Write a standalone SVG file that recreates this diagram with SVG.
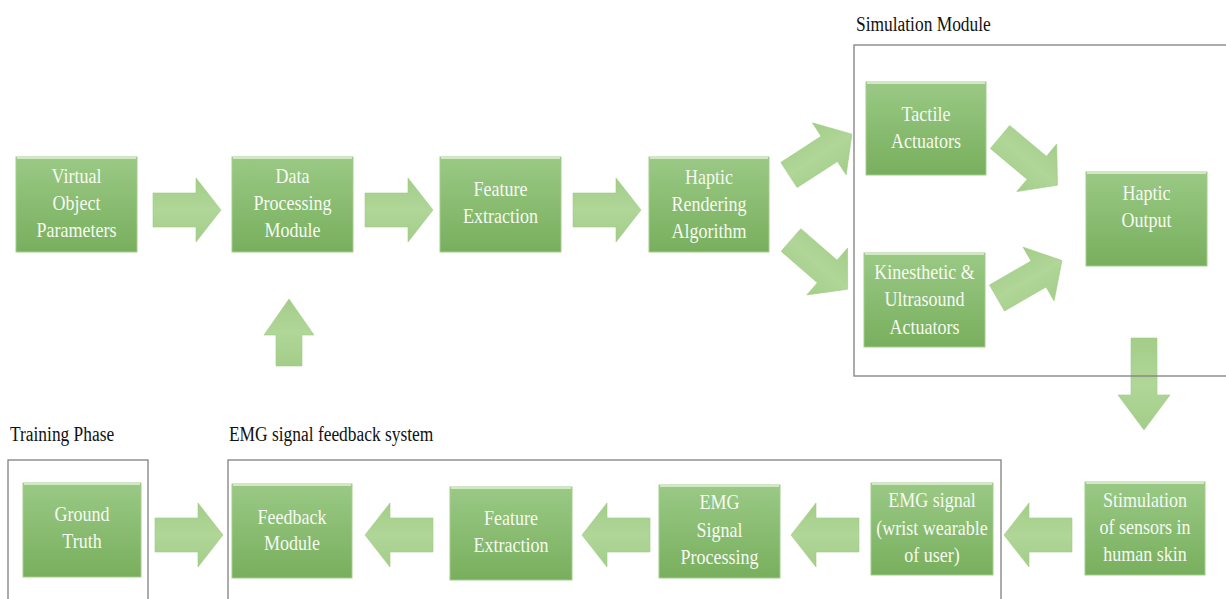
<svg xmlns="http://www.w3.org/2000/svg" xmlns:xlink="http://www.w3.org/1999/xlink" width="1226" height="599" viewBox="0 0 1226 599">
<style>
  .box { fill: url(#boxGrad); stroke: #a3cd8b; stroke-width: 1; }
  .hl { stroke: #d2e8c4; stroke-width: 2; }
  .nt { font-family: 'Liberation Serif', 'Times New Roman', serif; font-size: 22px; fill: #f6faf2; text-anchor: middle; }
  .lbl { font-family: 'Liberation Serif', 'Times New Roman', serif; font-size: 20px; fill: #111; }
  .frame { fill: none; stroke: #808080; stroke-width: 1.3; }
  .arr { fill: url(#arrGrad); stroke: #a0cc86; stroke-width: 0.6; }
</style>
<defs>
  <linearGradient id="boxGrad" x1="0" y1="0" x2="0" y2="1">
    <stop offset="0" stop-color="#9ac985"/>
    <stop offset="1" stop-color="#78af5d"/>
  </linearGradient>
  <linearGradient id="arrGrad" x1="0" y1="0" x2="0" y2="1">
    <stop offset="0" stop-color="#a3cd88"/>
    <stop offset="0.5" stop-color="#b0d698"/>
    <stop offset="1" stop-color="#a3cd88"/>
  </linearGradient>
  <path id="harr" d="M0,-17 H43 V-32 L68,0 L43,32 V17 H0 Z"/>
  <path id="darr" d="M0,-15 H48 V-31 L75,0 L48,31 V15 H0 Z"/>
</defs>
<rect width="1226" height="599" fill="#ffffff"/>

<g id="connectors">
  <use xlink:href="#harr" class="arr" transform="translate(153,210)"/>
  <use xlink:href="#harr" class="arr" transform="translate(365,210)"/>
  <use xlink:href="#harr" class="arr" transform="translate(573,210)"/>
  <use xlink:href="#darr" class="arr" transform="translate(789,175) rotate(-33)"/>
  <use xlink:href="#darr" class="arr" transform="translate(791,240) rotate(41)"/>
  <use xlink:href="#darr" class="arr" transform="translate(1000,137) rotate(40)"/>
  <use xlink:href="#darr" class="arr" transform="translate(997,298) rotate(-30)"/>
  <path class="arr" d="M1131,338 H1157 V395 H1170 L1144,430 L1118,395 H1131 Z"/>
  <path class="arr" d="M276,366 V335 H264 L289,299 L314,335 H302 V366 Z"/>
  <use xlink:href="#harr" class="arr" transform="translate(155,535)"/>
  <use xlink:href="#harr" class="arr" transform="translate(433,535) scale(-1,1)"/>
  <use xlink:href="#harr" class="arr" transform="translate(650,535) scale(-1,1)"/>
  <use xlink:href="#harr" class="arr" transform="translate(859,535) scale(-1,1)"/>
  <use xlink:href="#harr" class="arr" transform="translate(1072,535) scale(-1,1)"/>
</g>

<g id="frames">
  <rect class="frame" x="854" y="45" width="400" height="331"/>
  <rect class="frame" x="8" y="460" width="140" height="170"/>
  <rect class="frame" x="228" y="460" width="773" height="170"/>
  <text class="lbl" transform="translate(856,0) scale(0.87,1)" x="0" y="31">Simulation Module</text>
  <text class="lbl" transform="translate(10,0) scale(0.87,1)" x="0" y="441">Training Phase</text>
  <text class="lbl" transform="translate(229,0) scale(0.87,1)" x="0" y="441">EMG signal feedback system</text>
</g>

<g id="nodes">
<g id="n-virtual">
  <rect class="box" x="16" y="157" width="121" height="95"/>
  <line class="hl" x1="17" y1="158" x2="136" y2="158"/>
  <text class="nt" transform="translate(76.5,0) scale(0.82,1)"><tspan x="0" y="183">Virtual</tspan><tspan x="0" y="210">Object</tspan><tspan x="0" y="237">Parameters</tspan></text>
</g>
<g id="n-dataproc">
  <rect class="box" x="232" y="157" width="121" height="95"/>
  <line class="hl" x1="233" y1="158" x2="352" y2="158"/>
  <text class="nt" transform="translate(292.5,0) scale(0.82,1)"><tspan x="0" y="183">Data</tspan><tspan x="0" y="210">Processing</tspan><tspan x="0" y="237">Module</tspan></text>
</g>
<g id="n-feature1">
  <rect class="box" x="440" y="157" width="121" height="95"/>
  <line class="hl" x1="441" y1="158" x2="560" y2="158"/>
  <text class="nt" transform="translate(500.5,0) scale(0.82,1)"><tspan x="0" y="196">Feature</tspan><tspan x="0" y="223">Extraction</tspan></text>
</g>
<g id="n-rendering">
  <rect class="box" x="649" y="157" width="120" height="95"/>
  <line class="hl" x1="650" y1="158" x2="768" y2="158"/>
  <text class="nt" transform="translate(709,0) scale(0.82,1)"><tspan x="0" y="184">Haptic</tspan><tspan x="0" y="211">Rendering</tspan><tspan x="0" y="238">Algorithm</tspan></text>
</g>
<g id="n-tactile">
  <rect class="box" x="866" y="82" width="120" height="93"/>
  <line class="hl" x1="867" y1="83" x2="985" y2="83"/>
  <text class="nt" transform="translate(926,0) scale(0.82,1)"><tspan x="0" y="121">Tactile</tspan><tspan x="0" y="148">Actuators</tspan></text>
</g>
<g id="n-kinesthetic">
  <rect class="box" x="864" y="253" width="121" height="94"/>
  <line class="hl" x1="865" y1="254" x2="984" y2="254"/>
  <text class="nt" transform="translate(924.5,0) scale(0.82,1)"><tspan x="0" y="279">Kinesthetic &amp;</tspan><tspan x="0" y="306">Ultrasound</tspan><tspan x="0" y="334">Actuators</tspan></text>
</g>
<g id="n-hapticout">
  <rect class="box" x="1086" y="172" width="121" height="94"/>
  <line class="hl" x1="1087" y1="173" x2="1206" y2="173"/>
  <text class="nt" transform="translate(1146.5,0) scale(0.82,1)"><tspan x="0" y="200">Haptic</tspan><tspan x="0" y="227">Output</tspan></text>
</g>
<g id="n-ground">
  <rect class="box" x="23" y="483" width="118" height="94"/>
  <line class="hl" x1="24" y1="484" x2="140" y2="484"/>
  <text class="nt" transform="translate(82,0) scale(0.82,1)"><tspan x="0" y="521">Ground</tspan><tspan x="0" y="548">Truth</tspan></text>
</g>
<g id="n-feedback">
  <rect class="box" x="232" y="484" width="120" height="94"/>
  <line class="hl" x1="233" y1="485" x2="351" y2="485"/>
  <text class="nt" transform="translate(292,0) scale(0.82,1)"><tspan x="0" y="524">Feedback</tspan><tspan x="0" y="550">Module</tspan></text>
</g>
<g id="n-feature2">
  <rect class="box" x="450" y="487" width="122" height="93"/>
  <line class="hl" x1="451" y1="488" x2="571" y2="488"/>
  <text class="nt" transform="translate(511,0) scale(0.82,1)"><tspan x="0" y="525">Feature</tspan><tspan x="0" y="552">Extraction</tspan></text>
</g>
<g id="n-emgproc">
  <rect class="box" x="659" y="485" width="121" height="93"/>
  <line class="hl" x1="660" y1="486" x2="779" y2="486"/>
  <text class="nt" transform="translate(719.5,0) scale(0.82,1)"><tspan x="0" y="509">EMG</tspan><tspan x="0" y="537">Signal</tspan><tspan x="0" y="564">Processing</tspan></text>
</g>
<g id="n-emgsignal">
  <rect class="box" x="871" y="483" width="122" height="92"/>
  <line class="hl" x1="872" y1="484" x2="992" y2="484"/>
  <text class="nt" transform="translate(932,0) scale(0.82,1)"><tspan x="0" y="507">EMG signal</tspan><tspan x="0" y="535">(wrist wearable</tspan><tspan x="0" y="562">of user)</tspan></text>
</g>
<g id="n-stimulation">
  <rect class="box" x="1085" y="482" width="120" height="93"/>
  <line class="hl" x1="1086" y1="483" x2="1204" y2="483"/>
  <text class="nt" transform="translate(1145,0) scale(0.82,1)"><tspan x="0" y="507">Stimulation</tspan><tspan x="0" y="534">of sensors in</tspan><tspan x="0" y="561">human skin</tspan></text>
</g>
</g>
</svg>
